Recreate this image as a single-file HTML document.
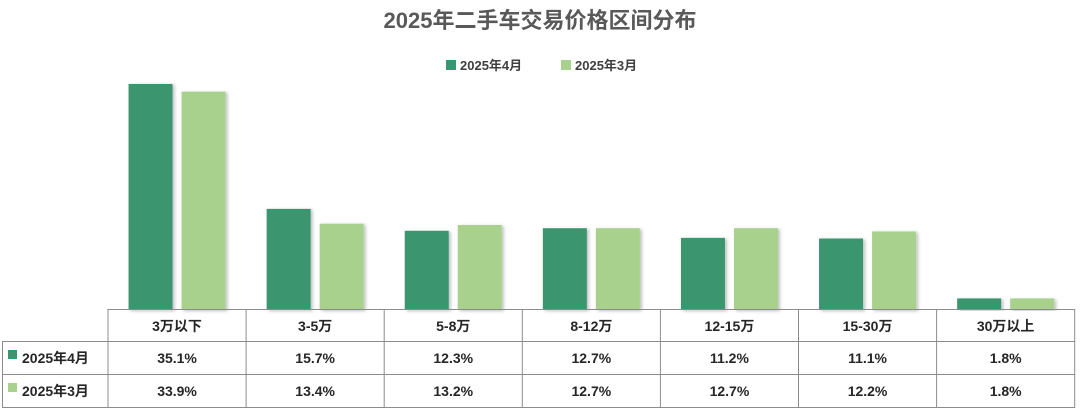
<!DOCTYPE html>
<html><head><meta charset="utf-8"><style>
body{margin:0;background:#fff;width:1080px;height:410px;overflow:hidden;font-family:"Liberation Sans","Noto Sans CJK SC",sans-serif;}
svg text{font-family:"Liberation Sans","Noto Sans CJK SC",sans-serif;}
</style></head><body>
<svg id="c" width="1080" height="410" xmlns="http://www.w3.org/2000/svg">
<defs><filter id="sh" x="-20%" y="-5%" width="150%" height="110%"><feDropShadow dx="2" dy="1" stdDeviation="1.5" flood-color="#000" flood-opacity="0.25"/></filter></defs>
<text x="540" y="28" text-anchor="middle" font-size="22" font-weight="bold" fill="#595959">2025年二手车交易价格区间分布</text>
<g>
<rect x="446" y="60" width="10" height="10" fill="#3a9670"/>
<text x="460" y="70" font-size="13" font-weight="bold" fill="#404040">2025年4月</text>
<rect x="561" y="60" width="10" height="10" fill="#a8d18d"/>
<text x="575" y="70" font-size="13" font-weight="bold" fill="#404040">2025年3月</text>
</g>
<g id="bars"></g>
<g id="table"></g>
</svg>
<script>
const categories=["3万以下","3-5万","5-8万","8-12万","12-15万","15-30万","30万以上"];
const apr=[35.1,15.7,12.3,12.7,11.2,11.1,1.8];
const mar=[33.9,13.4,13.2,12.7,12.7,12.2,1.8];
const NS="http://www.w3.org/2000/svg";
const x0=108,colW=138.1,base=310,k=6.44,bw=44;
const xc=i=>x0+colW*(i+0.5);
const y=v=>base-v*k;
const bars=document.getElementById('bars'),tbl=document.getElementById('table');
function mk(tag,attrs,parent){const e=document.createElementNS(NS,tag);for(const a in attrs)e.setAttribute(a,attrs[a]);parent.appendChild(e);return e;}
categories.forEach((c,i)=>{
 const r1=mk('rect',{x:xc(i)-bw-4.5,y:y(apr[i]),width:bw,height:apr[i]*k,fill:'#3a9670',filter:'url(#sh)'},bars);
 
 
 const r2=mk('rect',{x:xc(i)+4.5,y:y(mar[i]),width:bw,height:mar[i]*k,fill:'#a8d18d',filter:'url(#sh)'},bars);
 
 
 const t=mk('text',{x:xc(i),y:331,'text-anchor':'middle','font-size':14,'font-weight':'bold',fill:'#262626'},tbl);
 t.textContent=c;
 
 
 const a=mk('text',{x:xc(i),y:363,'text-anchor':'middle','font-size':14,'font-weight':'bold',fill:'#262626'},tbl);
 a.textContent=apr[i].toFixed(1)+'%';
 
 
 const m=mk('text',{x:xc(i),y:396,'text-anchor':'middle','font-size':14,'font-weight':'bold',fill:'#262626'},tbl);
 m.textContent=mar[i].toFixed(1)+'%';
 
 
});
const lc='#8c8c8c',xe=x0+colW*categories.length;
mk('line',{x1:x0,y1:309.5,x2:xe,y2:309.5,stroke:lc},tbl);
mk('line',{x1:2,y1:341.5,x2:xe,y2:341.5,stroke:lc},tbl);
mk('line',{x1:2,y1:374.5,x2:xe,y2:374.5,stroke:lc},tbl);
mk('line',{x1:2,y1:407.5,x2:xe,y2:407.5,stroke:lc},tbl);
mk('line',{x1:2.5,y1:341,x2:2.5,y2:408,stroke:lc},tbl);
for(let i=0;i<=categories.length;i++){mk('line',{x1:x0+colW*i,y1:309,x2:x0+colW*i,y2:408,stroke:lc},tbl);}
mk('rect',{x:8,y:350,width:9,height:9,fill:'#3a9670'},tbl);
mk('rect',{x:8,y:383,width:9,height:9,fill:'#a8d18d'},tbl);
const l1=mk('text',{x:22,y:363,'font-size':14,'font-weight':'bold',fill:'#262626'},tbl);l1.textContent='2025年4月';


const l2=mk('text',{x:22,y:396,'font-size':14,'font-weight':'bold',fill:'#262626'},tbl);l2.textContent='2025年3月';


</script>
</body></html>
